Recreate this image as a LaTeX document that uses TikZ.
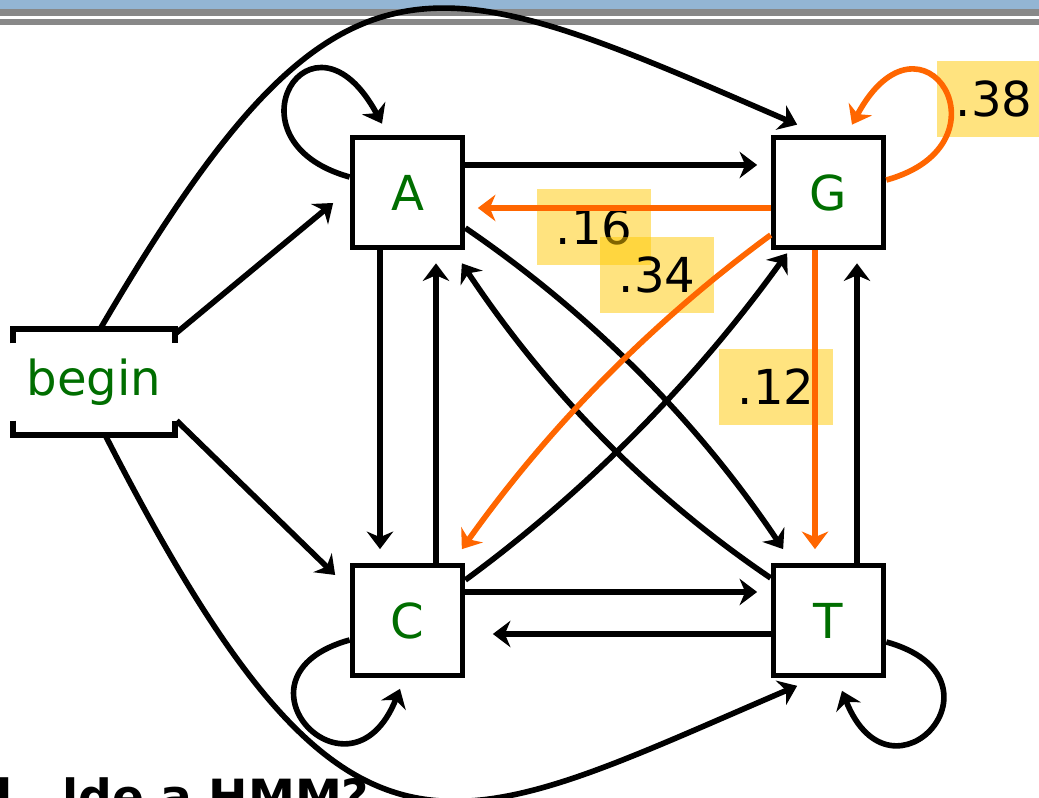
\documentclass[tikz,border=0pt]{standalone}
\usepackage{fontspec}
\setmainfont{DejaVu Sans}
\usetikzlibrary{arrows.meta}
\definecolor{stategreen}{RGB}{0,110,0}
\definecolor{probor}{RGB}{255,102,0}
\definecolor{hilite}{RGB}{255,200,0}
\definecolor{barblue}{RGB}{147,181,212}
\definecolor{bargray}{RGB}{136,136,136}

\begin{document}
\begin{tikzpicture}[x=0.01cm, y=-0.01cm,
    state/.style={draw, line width=1.6pt, minimum size=1.1cm, inner sep=0pt, text=stategreen, font=\fontsize{13.7}{16}\selectfont},
    prob/.style={fill=hilite, fill opacity=0.5, text opacity=1, minimum width=1.14cm, minimum height=0.76cm, inner sep=0pt, font=\fontsize{13.7}{16}\selectfont},
    arr/.style={line width=1.6pt, -{Stealth[length=5pt, width=7.5pt, inset=1.6pt]}},
    hot/.style={arr, draw=probor}]
  \useasboundingbox (0,0) rectangle (1039,798);
  \clip (0,0) rectangle (1039,798);

  % header bars
  \fill[barblue] (0,0) rectangle (1039,9.5);
  \fill[bargray] (0,9.5) rectangle (1039,16);
  \fill[bargray] (0,19) rectangle (1039,25.5);

  % transition probabilities
  \node[prob] (p16) at (594,227) {.16};
  \node[prob] (p34) at (657,275) {.34};
  \node[prob] (p38) at (994,99) {.38};
  \node[prob] (p12) at (776,387) {.12};

  % states
  \node[state] (A) at (407.5,192.5) {A};
  \node[state] (G) at (828.5,192.5) {G};
  \node[state] (C) at (407.5,620.5) {C};
  \node[state] (T) at (828.5,620.5) {T};

  % start state, open on both sides
  \node[minimum width=1.6cm, minimum height=1.04cm, text=stategreen, font=\fontsize{13.7}{16}\selectfont] (begin) at (94,382) {begin};
  \draw[line width=1.6pt] ([shift={(0,14)}]begin.north west) -- (begin.north west) -- (begin.north east) -- ([shift={(0,14)}]begin.north east);
  \draw[line width=1.6pt] ([shift={(0,-14)}]begin.south west) -- (begin.south west) -- (begin.south east) -- ([shift={(0,-14)}]begin.south east);

  % from begin
  \draw[arr] ([shift={(0,5)}]begin.north east) -- ([shift={(-16.5,10.5)}]A.west);
  \draw[arr] ([shift={(2,-14)}]begin.south east) -- ([shift={(-14.5,-45.5)}]C.west);
  \draw[arr] ([shift={(6,0)}]begin.north) .. controls +(240,-410) and +(-370,-160) .. ([shift={(26.5,-10)}]G.north west);
  \draw[arr] ([shift={(11,0)}]begin.south) .. controls +(244,477) and +(-353,151) .. ([shift={(26.5,7.5)}]T.south west);

  % horizontal
  \draw[arr] ([shift={(0,-27.5)}]A.east) -- ([shift={(-13.5,-27.5)}]G.west);
  \draw[hot] ([shift={(0,15.5)}]G.west) -- ([shift={(12.5,15.5)}]A.east);
  \draw[arr] ([shift={(0,-28.5)}]C.east) -- ([shift={(-13.5,-28.5)}]T.west);
  \draw[arr] ([shift={(0,13.5)}]T.west) -- ([shift={(27.5,13.5)}]C.east);

  % vertical
  \draw[arr] ([shift={(-27.5,0)}]A.south) -- ([shift={(-27.5,-13.5)}]C.north);
  \draw[arr] ([shift={(28.5,0)}]C.north) -- ([shift={(28.5,13)}]A.south);
  \draw[hot] ([shift={(-13.5,0)}]G.south) -- ([shift={(-13.5,-13.5)}]T.north);
  \draw[arr] ([shift={(28.5,0)}]T.north) -- ([shift={(28.5,13)}]G.south);

  % diagonals
  \draw[arr] ([shift={(0,35.5)}]A.east) .. controls +(126,86) and +(-85,-127) .. ([shift={(12.5,-13.5)}]T.north west);
  \draw[arr] ([shift={(0,-42.5)}]T.west) .. controls +(-124,-84) and +(83,125) .. ([shift={(-3.5,13)}]A.south east);
  \draw[arr] ([shift={(0,-40.5)}]C.east) .. controls +(124,-91) and +(-90,125) .. ([shift={(16.5,3)}]G.south west);
  \draw[hot] ([shift={(0,42.5)}]G.west) .. controls +(-120,88) and +(86,-121) .. ([shift={(-3.5,-13.5)}]C.north east);

  % self loops
  \draw[arr] ([shift={(0,-15.5)}]A.west) .. controls +(-130,-36) and +(-70,-130) .. ([shift={(-25.5,-11)}]A.north);
  \draw[hot] ([shift={(0,-12.5)}]G.east) .. controls +(130,-36) and +(70,-130) .. ([shift={(23.5,-10)}]G.north);
  \draw[arr] ([shift={(0,19.5)}]C.west) .. controls +(-130,36) and +(-50,125) .. ([shift={(-7.5,10.5)}]C.south);
  \draw[arr] ([shift={(0,21.5)}]T.east) .. controls +(130,36) and +(50,125) .. ([shift={(13.5,12.5)}]T.south);

  % title below, mostly cut off
  \node[anchor=base east, inner sep=0pt, font=\bfseries\fontsize{13.4}{16}\selectfont] (ttl) at (370,814) {l\hspace{1.05em}lde a HMM?};
\end{tikzpicture}
\end{document}
